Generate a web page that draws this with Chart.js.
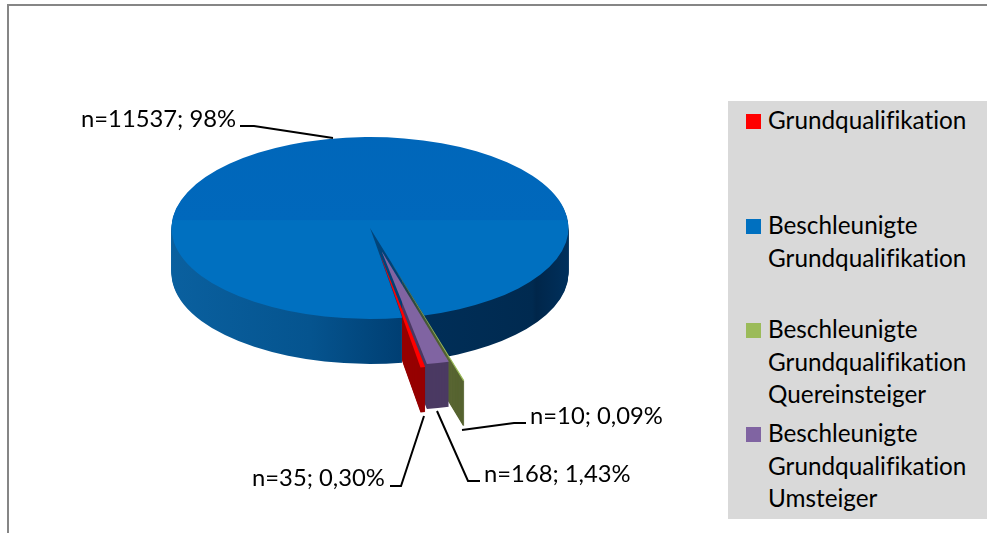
<!DOCTYPE html>
<html>
<head>
<meta charset="utf-8">
<title>Grundqualifikation</title>
<script src="https://cdn.jsdelivr.net/npm/chart.js@4"></script>
<style>
body { margin: 0; background: #fff; font-family: Lato, sans-serif; color: #000; }
#wrap { position: relative; width: 987px; height: 533px; overflow: hidden; }
#frame { position: absolute; left: 7px; top: 4px; width: 990px; height: 540px; border: 2px solid #868686; box-sizing: border-box; }
#myChart { position: absolute; left: 0; top: 0; }
#legendBox { position: absolute; left: 728px; top: 101px; width: 259px; height: 418px; background: #d9d9d9; }
.item { position: absolute; left: 40px; font-size: 24.3px; line-height: 32.5px; white-space: pre; font-variant-ligatures: none; }
.swatch { position: absolute; left: 18px; width: 15px; height: 15px; }
</style>
</head>
<body>
<div id="wrap">
  <div id="frame"></div>
  <div id="legendBox"></div>
  <canvas id="myChart" width="987" height="533"></canvas>
</div>
<script>
// data of the chart
const categories = [
    'Grundqualifikation',
    'Beschleunigte\nGrundqualifikation',
    'Beschleunigte\nGrundqualifikation\nQuereinsteiger',
    'Beschleunigte\nGrundqualifikation\nUmsteiger'
];
const counts = [35, 11537, 10, 168];
const shares = ['0,30%', '98%', '0,09%', '1,43%'];

const colors = ['#ff0000', '#0070c0', '#9bbb59', '#8064a2'];
const wallColors = ['#960000', null, '#566330', '#4b3a63'];
const explode = [220, 0, 295, 208];

// where the flat pie goes on the page
const centerY = 228;
const squash = 0.458;
const depth = 45;

// label text spot and leader line for each slice
const labelSpots = [
    { x: 252, y: 486, line: [[390, 486], [401, 486], [424, 416]] },
    { x: 81, y: 127, line: [[240, 126], [254, 126], [333, 138]] },
    { x: 530, y: 424, line: [[526, 423], [514, 423], [462, 430]] },
    { x: 484, y: 482, line: [[480, 481], [468, 481], [437, 411]] }
];

// squeeze the context so the circle becomes the ellipse
function tilt(chart, dy) {
    const mid = (chart.chartArea.top + chart.chartArea.bottom) / 2;
    chart.ctx.translate(0, centerY + dy);
    chart.ctx.scale(1, squash);
    chart.ctx.translate(0, -mid);
}

// arc.draw narrows far exploded slices, so the wedge is traced from the element here
function slicePath(ctx, arc) {
    const off = (arc.options.offset || 0) / 4;
    const half = (arc.startAngle + arc.endAngle) / 2;
    const x = arc.x + Math.cos(half) * off;
    const y = arc.y + Math.sin(half) * off;
    ctx.beginPath();
    ctx.moveTo(x, y);
    ctx.arc(x, y, arc.outerRadius + off, arc.startAngle, arc.endAngle);
    ctx.closePath();
}

function drawWall(chart, arc, fill) {
    const ctx = chart.ctx;
    for (let d = depth; d > 0; d--) {
        ctx.save();
        tilt(chart, d);
        ctx.fillStyle = fill;
        slicePath(ctx, arc);
        ctx.fill();
        ctx.restore();
    }
}

const pie3d = {
    id: 'pie3d',
    beforeDatasetsDraw(chart) {
        const ctx = chart.ctx;
        const arcs = chart.getDatasetMeta(0).data;
        const big = arcs[1];
        // rim of the big slice
        const rim = ctx.createLinearGradient(171, 0, 568, 0);
        rim.addColorStop(0, '#0a609f');
        rim.addColorStop(0.35, '#05548f');
        rim.addColorStop(0.58, '#003f73');
        rim.addColorStop(0.6, '#002f59');
        rim.addColorStop(0.91, '#002a50');
        rim.addColorStop(0.92, '#00264a');
        rim.addColorStop(1, '#00305c');
        drawWall(chart, big, rim);
        // walls of the small ones, red in front, hidden behind the rim on the left
        const edgeX = big.x + Math.cos(big.startAngle) * big.outerRadius;
        ctx.save();
        ctx.beginPath();
        ctx.rect(edgeX, 0, chart.width, chart.height);
        ctx.clip();
        [2, 3, 0].forEach(function(i) {
            drawWall(chart, arcs[i], wallColors[i]);
        });
        ctx.restore();
        ctx.save();
        tilt(chart, 0);
    },
    afterDatasetsDraw(chart) {
        const ctx = chart.ctx;
        const arcs = chart.getDatasetMeta(0).data;
        [2, 0, 3].forEach(function(i) {
            ctx.fillStyle = arcs[i].options.backgroundColor;
            slicePath(ctx, arcs[i]);
            ctx.fill();
        });
        ctx.restore();

        // leader lines and labels
        ctx.save();
        ctx.strokeStyle = '#000';
        ctx.lineWidth = 2;
        ctx.fillStyle = '#000';
        ctx.font = '23.8px Lato, sans-serif';
        labelSpots.forEach(function(spot, i) {
            ctx.beginPath();
            spot.line.forEach(function(p, k) {
                if (k === 0) ctx.moveTo(p[0], p[1]);
                else ctx.lineTo(p[0], p[1]);
            });
            ctx.stroke();
            ctx.fillText('n=' + counts[i] + '; ' + shares[i], spot.x, spot.y);
        });
        ctx.restore();
    }
};

new Chart(document.getElementById('myChart'), {
    type: 'pie',
    data: {
        labels: categories,
        datasets: [{
            data: counts,
            backgroundColor: function(c) {
                if (c.dataIndex !== 1) return colors[c.dataIndex];
                // top of the big slice is a bit darker on the far half
                const area = c.chart.chartArea;
                if (!area) return colors[1];
                const g = c.chart.ctx.createLinearGradient(0, area.top, 0, area.bottom);
                g.addColorStop(0, '#0066b9');
                g.addColorStop(0.466, '#0068bc');
                g.addColorStop(0.47, '#0070c0');
                g.addColorStop(1, '#0070c0');
                return g;
            },
            borderWidth: 0,
            offset: explode
        }]
    },
    options: {
        responsive: false,
        animation: false,
        events: [],
        radius: 198.5,
        rotation: 169.6,
        layout: { padding: { left: 0, right: 247 } },
        plugins: {
            legend: { display: false },
            tooltip: { enabled: false }
        }
    },
    plugins: [pie3d]
});

// legend, same order as the data
const legendTops = [3, 108, 212, 316];
const box = document.getElementById('legendBox');
categories.forEach(function(name, i) {
    const sw = document.createElement('div');
    sw.className = 'swatch';
    sw.style.top = (legendTops[i] + 10) + 'px';
    sw.style.background = colors[i];
    box.appendChild(sw);
    const it = document.createElement('div');
    it.className = 'item';
    it.style.top = legendTops[i] + 'px';
    it.textContent = name;
    box.appendChild(it);
});
</script>
</body>
</html>
